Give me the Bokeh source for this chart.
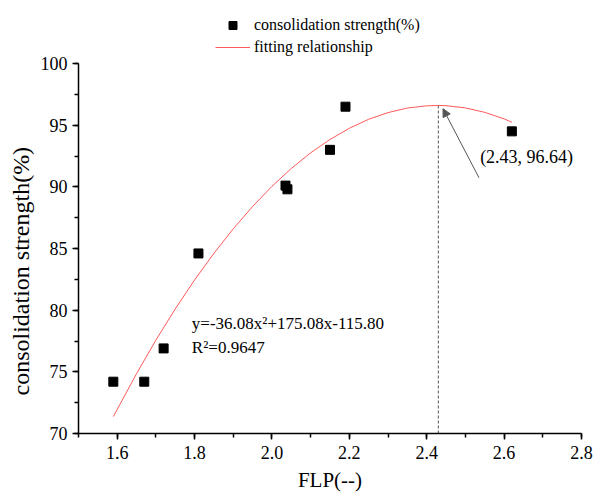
from bokeh.plotting import figure
from bokeh.models import (Legend, LegendItem, Range1d, SingleIntervalTicker,
                          Arrow, NormalHead, Label, PrintfTickFormatter, Title)
from bokeh.embed import file_html
from bokeh.resources import INLINE

# measured points
flp = [1.59, 1.67, 1.72, 1.81, 2.035, 2.04, 2.15, 2.19, 2.62]
strength = [74.2, 74.2, 76.9, 84.6, 90.1, 89.8, 93.0, 96.5, 94.5]

# fitted curve
fit_x = [1.59, 1.65, 1.70, 1.75, 1.80, 1.85, 1.90, 1.95, 2.00, 2.05, 2.10,
         2.15, 2.20, 2.25, 2.30, 2.35, 2.40, 2.43, 2.45, 2.50, 2.55, 2.60, 2.62]
fit_y = [71.37, 74.85, 77.57, 80.10, 82.45, 84.61, 86.60, 88.41, 90.04, 91.49,
         92.76, 93.84, 94.75, 95.48, 96.02, 96.39, 96.57, 96.60, 96.58, 96.40,
         96.04, 95.51, 95.24]

peak_x = 2.43
peak_y = 96.64
peak_text = "(2.43, 96.64)"
eq_text = "y=-36.08x\u00b2+175.08x-115.80"
r2_text = "R\u00b2=0.9647"
x_title = "FLP(--)"
y_title = "consolidation strength(%)"
x_min, x_max = 1.5, 2.8
y_min, y_max = 70, 100

FONT = "Liberation Serif"

p = figure(width=593, height=495, output_backend="svg", toolbar_location=None,
           x_range=Range1d(x_min, x_max + 1e-6), y_range=Range1d(y_min, 105.11),
           min_border_left=78, min_border_right=12, min_border_top=0,
           min_border_bottom=62)
p.outline_line_color = None
p.grid.visible = False

xa = p.xaxis[0]
ya = p.yaxis[0]
xa.ticker = SingleIntervalTicker(interval=0.2, num_minor_ticks=2)
ya.ticker = SingleIntervalTicker(interval=5, num_minor_ticks=2)
ya.bounds = (y_min, y_max)
xa.formatter = PrintfTickFormatter(format="%.1f")
xa.axis_label = x_title
for ax in (xa, ya):
    ax.axis_line_width = 1.5
    ax.major_tick_line_width = 1.5
    ax.minor_tick_line_width = 1.5
    ax.axis_line_color = "black"
    ax.major_tick_line_color = "black"
    ax.minor_tick_line_color = "black"
    ax.major_tick_out = 6
    ax.major_tick_in = 0
    ax.minor_tick_out = 4
    ax.minor_tick_in = 0
    ax.major_label_text_font = FONT
    ax.major_label_text_font_size = "18px"
    ax.major_label_text_color = "black"
    ax.axis_label_text_font = FONT
    ax.axis_label_text_font_style = "normal"
    ax.axis_label_text_color = "black"
xa.axis_label_text_font_size = "21px"
xa.axis_label_standoff = 6
xa.major_label_standoff = 6
ya.major_label_standoff = 5

# y title as a side title so it can be shifted along the axis
p.add_layout(Title(text=y_title, align="left", offset=38, standoff=8,
                   text_font=FONT, text_font_size="24px",
                   text_font_style="normal", text_color="black"), "left")

# fitted curve
fit_r = p.line(fit_x, fit_y, line_color="#FF5A5A", line_width=1)
# peak dashed line
p.segment(x0=[peak_x], y0=[y_min], x1=[peak_x], y1=[peak_y],
          line_color="#555555", line_dash="3 2", line_width=1)
# data points
pts_r = p.scatter(flp, strength, marker="square", size=9,
                  fill_color="black", line_color="black")

# arrow to the peak
p.add_layout(Arrow(end=NormalHead(size=8, fill_color="#555555", line_color="#555555",
                                  line_width=1),
                   x_start=peak_x + 0.105, y_start=peak_y - 5.9,
                   x_end=peak_x + 0.012, y_end=peak_y - 0.3,
                   line_color="#555555", line_width=1))
p.add_layout(Label(x=peak_x + 0.108, y=peak_y - 4.25, text=peak_text,
                   text_font=FONT, text_font_size="18px", text_color="black",
                   text_baseline="middle", text_align="left"))
p.add_layout(Label(x=1.793, y=78.9, text=eq_text,
                   text_font=FONT, text_font_size="17px", text_color="black",
                   text_baseline="middle", text_align="left"))
p.add_layout(Label(x=1.793, y=76.96, text=r2_text,
                   text_font=FONT, text_font_size="17px", text_color="black",
                   text_baseline="middle", text_align="left"))

legend = Legend(items=[LegendItem(label="consolidation strength(%)", renderers=[pts_r]),
                       LegendItem(label="fitting relationship", renderers=[fit_r])],
                location=(137, 376), orientation="vertical")
legend.border_line_color = None
legend.background_fill_alpha = 0
legend.margin = 0
legend.padding = 7
legend.spacing = 2
legend.glyph_width = 35
legend.glyph_height = 20
legend.label_height = 20
legend.label_standoff = 4
legend.label_text_font = FONT
legend.label_text_font_size = "16px"
legend.label_text_color = "black"
p.add_layout(legend, "center")

open("out.html", "w").write(file_html(p, INLINE))
